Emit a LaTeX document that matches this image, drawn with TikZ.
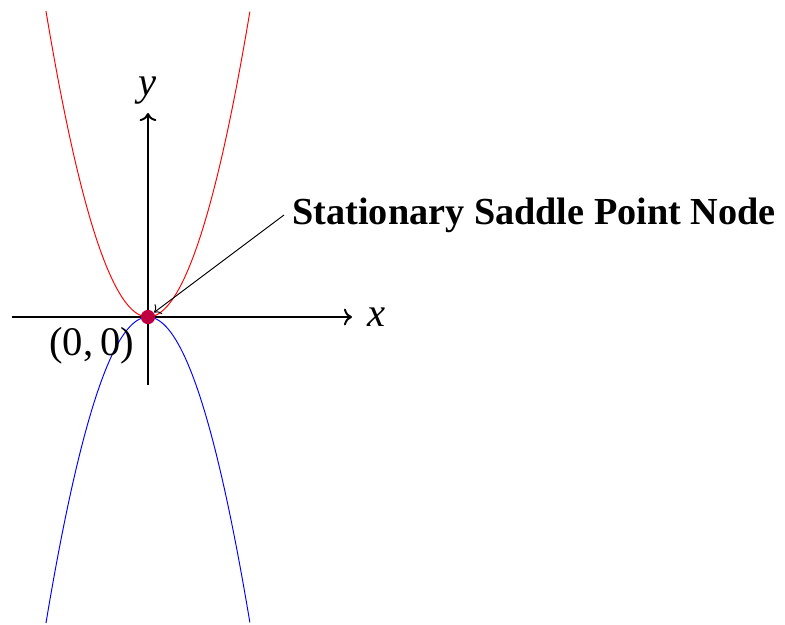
\documentclass[tikz,border=0pt]{standalone}
\usepackage{fontspec}
\setmainfont{Liberation Serif}
\usetikzlibrary{arrows.meta,positioning,calc}
\tikzset{
  axisline/.style={->,thick},
  upcurve/.style={red,domain=-1.5:1.5,samples=100},
  downcurve/.style={blue,domain=-1.5:1.5,samples=100},
  saddledot/.style={circle,fill=purple,inner sep=0pt,minimum size=2.1mm},
  calloutline/.style={->}
}

\begin{document}
\begin{tikzpicture}[font=\fontsize{16}{19}\selectfont]
  \useasboundingbox (-2.176,-4.515) rectangle (9.368,4.662);
  \coordinate (xl) at (-2,0);
  \coordinate (xr) at (3,0);
  \coordinate (yb) at (0,-1);
  \coordinate (yt) at (0,3);
  \draw[axisline] (xl)--(xr) node[right,xshift=1mm,font=\fontsize{17}{20}\selectfont] (xlab) {\textit{x}};
  \draw[axisline] (yb)--(yt) node[above,font=\fontsize{17}{20}\selectfont] (ylab) {\textit{y}};
  \draw[upcurve] plot (\x,{2*\x*\x});
  \draw[downcurve] plot (\x,{-2*\x*\x});
  \node[saddledot] (dot) at (0,0) {};
  \node[below left,xshift=-0.8mm,yshift=-0.3mm,font=\fontsize{17}{20}\selectfont] (origin) at (0,0) {(0,\,0)};
  \node[anchor=west] (saddle) at (2,1.5) {\textbf{Stationary Saddle Point Node}};
  \draw[calloutline] (saddle.west)--(dot);
\end{tikzpicture}
\end{document}
